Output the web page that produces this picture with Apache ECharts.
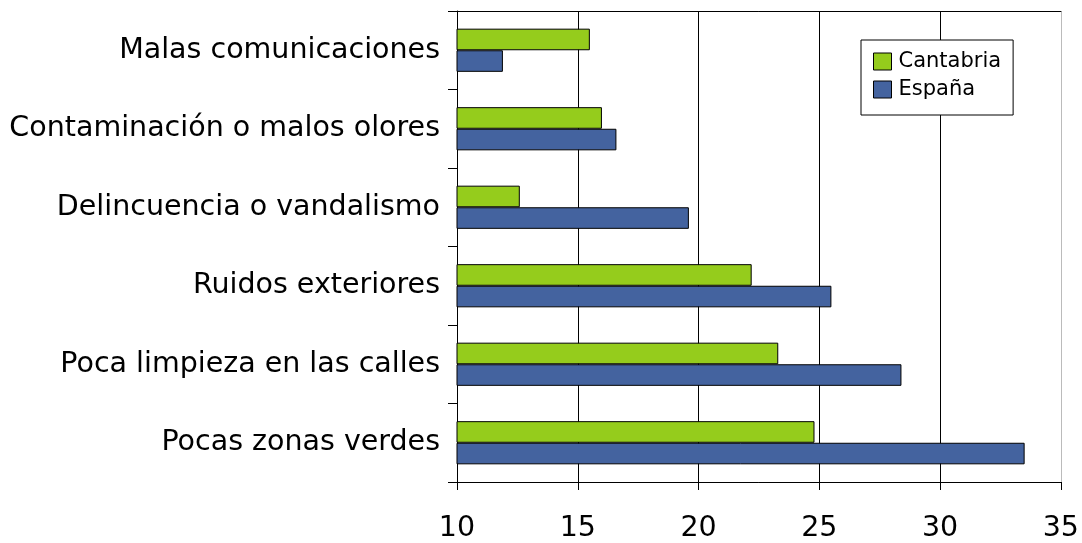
<!DOCTYPE html>
<html>
<head>
<meta charset="utf-8">
<script src="https://cdn.jsdelivr.net/npm/echarts@6/dist/echarts.min.js"></script>
<style>
  html, body { margin: 0; padding: 0; background: #fff; }
  #main { width: 1082px; height: 543px; }
</style>
</head>
<body>
<div id="main"></div>
<script>
  // categorias de abajo a arriba (el eje de categorias empieza abajo)
  var categories = [
    "Pocas zonas verdes",
    "Poca limpieza en las calles",
    "Ruidos exteriores",
    "Delincuencia o vandalismo",
    "Contaminación o malos olores",
    "Malas comunicaciones"
  ];
  var espana = [33.5, 28.4, 25.5, 19.6, 16.6, 11.9];
  var cantabria = [24.8, 23.3, 22.2, 12.6, 16.0, 15.5];
  var xTicks = [10, 15, 20, 25, 30, 35];

  var font = "DejaVu Sans";
  var chart = echarts.init(document.getElementById("main"));

  var option = {
    animation: false,
    backgroundColor: "#fff",
    grid: { left: 457, right: 20, top: 11, bottom: 60 },
    legend: {
      data: ["Cantabria", "España"],
      orient: "vertical",
      left: 861,
      top: 40,
      padding: [11, 12, 15, 12],
      itemGap: 7,
      itemWidth: 18,
      itemHeight: 17,
      icon: "rect",
      borderColor: "#000",
      borderWidth: 1,
      backgroundColor: "#fff",
      itemStyle: { borderColor: "#000", borderWidth: 1 },
      textStyle: { fontFamily: font, fontSize: 21, color: "#000", padding: [0, 0, 0, 2] }
    },
    xAxis: [
      {
        type: "value",
        min: xTicks[0],
        max: xTicks[xTicks.length - 1],
        interval: 5,
        axisLine: { show: true, lineStyle: { color: "#000", width: 1 } },
        axisTick: { show: true, length: 8, lineStyle: { color: "#000" } },
        axisLabel: { fontFamily: font, fontSize: 28.5, color: "#000", margin: 32 },
        splitLine: {
          show: true,
          lineStyle: { color: ["#000", "#000", "#000", "#000", "#000", "#bbb"], width: 1 }
        }
      },
      {
        // borde superior del area
        type: "value",
        position: "top",
        min: xTicks[0],
        max: xTicks[xTicks.length - 1],
        axisLine: { show: true, lineStyle: { color: "#000", width: 1 } },
        axisTick: { show: false },
        axisLabel: { show: false },
        splitLine: { show: false }
      }
    ],
    yAxis: {
      type: "category",
      data: categories,
      axisLine: { show: true, lineStyle: { color: "#000", width: 1 } },
      axisTick: { show: true, length: 9, lineStyle: { color: "#000" } },
      axisLabel: { fontFamily: font, fontSize: 28.5, color: "#000", margin: 17 },
      splitLine: { show: false }
    },
    series: [
      {
        name: "Cantabria",
        type: "bar",
        data: cantabria,
        barGap: "0%",
        barCategoryGap: "45%",
        itemStyle: { color: "#95cc1c", borderColor: "#000", borderWidth: 1 }
      },
      {
        name: "España",
        type: "bar",
        data: espana,
        barGap: "0%",
        barCategoryGap: "45%",
        itemStyle: { color: "#44639f", borderColor: "#000", borderWidth: 1 }
      }
    ]
  };
  chart.setOption(option);
</script>
</body>
</html>
